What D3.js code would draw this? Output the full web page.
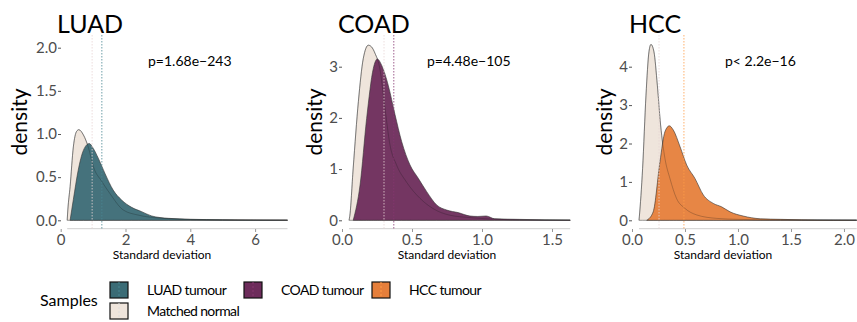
<!DOCTYPE html>
<html><head><meta charset="utf-8">
<script src="https://cdn.jsdelivr.net/npm/d3@7"></script>
<style>body{margin:0;background:#fff}svg{display:block}</style>
</head><body>
<svg id="c" width="857" height="322"></svg>
<script>
// ---------- data ----------
const panelNames = ["LUAD", "COAD", "HCC"];
const pValues = ["p=1.68e\u2212243", "p=4.48e\u2212105", "p< 2.2e\u221216"];
const tumourColors = ["#3b6c76", "#6d2c5b", "#e67f3b"];
const normalColor = "#efe5dc";
const legendLabels = ["LUAD tumour", "COAD tumour", "HCC tumour", "Matched normal"];

const luadXTicks = [0, 2, 4, 6];
const coadXTicks = [0, 0.5, 1.0, 1.5];
const hccXTicks = [0, 0.5, 1.0, 1.5, 2.0];
const luadYTicks = [0, 0.5, 1.0, 1.5, 2.0];
const coadYTicks = [0, 1, 2, 3];
const hccYTicks = [0, 1, 2, 3, 4];

// means (dotted lines): [normal, tumour]
const luadMeans = [0.97, 1.27];
const coadMeans = [0.30, 0.37];
const hccMeans = [0.255, 0.49];

// density curves
const luadNormalX = [0.2, 0.22, 0.29, 0.39, 0.49, 0.56, 0.70, 0.85, 1.01, 1.27, 1.52, 1.93, 2.40, 2.91, 3.5, 4.2, 5.0, 6.0, 7.0];
const luadNormalY = [0.0, 0.12, 0.39, 0.85, 1.03, 1.05, 0.99, 0.85, 0.62, 0.45, 0.31, 0.12, 0.06, 0.03, 0.015, 0.008, 0.005, 0.003, 0.002];
const luadTumourX = [0.29, 0.39, 0.54, 0.70, 0.88, 1.01, 1.16, 1.37, 1.62, 1.88, 2.19, 2.5, 2.81, 3.32, 4.0, 5.0, 6.0, 7.0];
const luadTumourY = [0.0, 0.24, 0.58, 0.81, 0.89, 0.83, 0.72, 0.54, 0.35, 0.235, 0.15, 0.10, 0.05, 0.023, 0.012, 0.006, 0.003, 0.002];

const coadNormalX = [0.05, 0.055, 0.08, 0.117, 0.152, 0.188, 0.21, 0.236, 0.27, 0.307, 0.343, 0.39, 0.46, 0.557, 0.65, 0.77, 0.93, 1.1, 1.3, 1.63];
const coadNormalY = [0.0, 0.07, 1.02, 2.32, 3.16, 3.42, 3.39, 3.26, 2.97, 2.19, 1.47, 1.08, 0.75, 0.43, 0.23, 0.10, 0.05, 0.02, 0.008, 0.003];
const coadTumourX = [0.08, 0.129, 0.176, 0.224, 0.252, 0.283, 0.33, 0.379, 0.426, 0.486, 0.545, 0.605, 0.676, 0.748, 0.83, 0.914, 0.97, 1.03, 1.09, 1.27, 1.45, 1.63];
const coadTumourY = [0.0, 0.69, 1.99, 2.97, 3.15, 3.03, 2.64, 2.06, 1.54, 1.08, 0.82, 0.56, 0.30, 0.20, 0.15, 0.084, 0.075, 0.084, 0.03, 0.018, 0.008, 0.004];

const hccNormalX = [0.066, 0.069, 0.10, 0.132, 0.16, 0.179, 0.207, 0.239, 0.27, 0.311, 0.358, 0.42, 0.50, 0.61, 0.80, 1.0, 1.3, 1.7, 2.12];
const hccNormalY = [0.0, 0.09, 1.35, 3.26, 4.39, 4.58, 4.39, 3.52, 2.48, 1.61, 1.09, 0.57, 0.31, 0.14, 0.05, 0.025, 0.012, 0.006, 0.003];
const hccTumourX = [0.139, 0.20, 0.264, 0.311, 0.352, 0.39, 0.453, 0.516, 0.594, 0.673, 0.767, 0.846, 0.925, 1.05, 1.21, 1.4, 1.6, 1.9, 2.12];
const hccTumourY = [0.0, 0.22, 1.53, 2.31, 2.46, 2.35, 1.92, 1.44, 1.09, 0.66, 0.44, 0.35, 0.22, 0.11, 0.04, 0.025, 0.012, 0.006, 0.004];

// ---------- layout ----------
const panels = [
  {xt: luadXTicks, yt: luadYTicks, yfmt: d3.format(".1f"), xfmt: d3.format("d"), means: luadMeans,
   nx: luadNormalX, ny: luadNormalY, tx: luadTumourX, ty: luadTumourY,
   xdom: [0, 7], xr: [60.7, 287.5], axStart: 0.2, ydom: [0, 2], yr: [220.3, 47.7],
   title: [57, 33], dens: 20, ytickX: 58, p: [148, 66], xlab: 162},
  {xt: coadXTicks, yt: coadYTicks, yfmt: d3.format("d"), xfmt: d3.format(".1f"), means: coadMeans,
   nx: coadNormalX, ny: coadNormalY, tx: coadTumourX, ty: coadTumourY,
   xdom: [0, 1.63], xr: [342, 570.2], axStart: 0.05, ydom: [0, 3], yr: [220.3, 66.7],
   title: [338, 33], dens: 315, ytickX: 339, p: [427, 66], xlab: 447},
  {xt: hccXTicks, yt: hccYTicks, yfmt: d3.format("d"), xfmt: d3.format(".1f"), means: hccMeans,
   nx: hccNormalX, ny: hccNormalY, tx: hccTumourX, ty: hccTumourY,
   xdom: [0, 2.12], xr: [632, 856.7], axStart: 0.066, ydom: [0, 4], yr: [220.3, 66.7],
   title: [629, 33], dens: 605, ytickX: 629, p: [725, 66], xlab: 723}
];

const svg = d3.select("#c");
const font = "Lato, 'Open Sans', sans-serif";

panels.forEach((p, i) => {
  const x = d3.scaleLinear().domain(p.xdom).range(p.xr);
  const y = d3.scaleLinear().domain(p.ydom).range(p.yr);
  const g = svg.append("g");
  const area = (xs, ys) => d3.area().curve(d3.curveMonotoneX)
      .x((d, k) => x(xs[k])).y0(y(0)).y1((d, k) => y(ys[k]))(xs);
  const line = (xs, ys) => d3.line().curve(d3.curveMonotoneX)
      .x((d, k) => x(xs[k])).y((d, k) => y(ys[k]))(xs);

  // x axis line
  g.append("line").attr("x1", x(p.axStart)).attr("x2", x(p.xdom[1]))
    .attr("y1", 228.7).attr("y2", 228.7).attr("stroke", "#cfcfcf").attr("stroke-width", 1);
  // x ticks
  const xa = g.append("g").attr("transform", "translate(0,229)")
    .call(d3.axisBottom(x).tickValues(p.xt).tickFormat(p.xfmt).tickSize(3).tickPadding(2));
  xa.select(".domain").remove();
  xa.selectAll("line").attr("stroke", "#999");
  xa.selectAll("text").attr("font-family", font).attr("font-size", 15).attr("fill", "#4d4d4d");

  // y ticks
  const ya = g.append("g").attr("transform", `translate(${p.ytickX},0)`)
    .call(d3.axisLeft(y).tickValues(p.yt).tickFormat(p.yfmt).tickSize(3).tickPadding(1));
  ya.select(".domain").remove();
  ya.selectAll("line").attr("stroke", "#555").attr("transform", "translate(3,0)");
  ya.selectAll("text").attr("font-family", font).attr("font-size", 15).attr("fill", "#4d4d4d")
    .attr("x", -1);

  // densities
  g.append("path").attr("d", area(p.nx, p.ny)).attr("fill", normalColor)
    .attr("stroke", "#555").attr("stroke-width", 0.6);
  g.append("path").attr("d", area(p.tx, p.ty)).attr("fill", tumourColors[i]).attr("fill-opacity", 0.95)
    .attr("stroke", "#333").attr("stroke-width", 0.6);
  g.append("path").attr("d", line(p.nx, p.ny)).attr("fill", "none")
    .attr("stroke", "#222").attr("stroke-opacity", 0.35).attr("stroke-width", 0.7);

  // mean lines
  g.append("line").attr("x1", x(p.means[0])).attr("x2", x(p.means[0]))
    .attr("y1", 35).attr("y2", 229).attr("stroke", "#e9d6d6").attr("stroke-width", 0.8)
    .attr("stroke-dasharray", "1.5,1.5");
  g.append("line").attr("x1", x(p.means[1])).attr("x2", x(p.means[1]))
    .attr("y1", 35).attr("y2", 229).attr("stroke", d3.color(tumourColors[i]).brighter(0.6))
    .attr("stroke-width", 0.8).attr("stroke-dasharray", "1.5,1.5");

  // texts
  g.append("text").attr("x", p.title[0]).attr("y", p.title[1]).text(panelNames[i])
    .attr("font-family", font).attr("font-size", 25).attr("fill", "#000");
  g.append("text").attr("transform", `translate(${p.dens + 7},122) rotate(-90)`)
    .attr("text-anchor", "middle").text("density")
    .attr("font-family", font).attr("font-size", 21).attr("fill", "#000");
  g.append("text").attr("x", p.p[0]).attr("y", p.p[1]).text(pValues[i])
    .attr("font-family", font).attr("font-size", 14).attr("fill", "#000");
  g.append("text").attr("x", p.xlab).attr("y", 259).attr("text-anchor", "middle")
    .text("Standard deviation").attr("font-family", font).attr("font-size", 12).attr("fill", "#000");
});

// ---------- legend ----------
const lg = svg.append("g");
lg.append("text").attr("x", 40).attr("y", 306).text("Samples")
  .attr("font-family", font).attr("font-size", 16).attr("fill", "#000");
const legendPos = [[110, 282], [244, 282], [372, 282], [110, 303]];
const legendFill = [tumourColors[0], tumourColors[1], tumourColors[2], normalColor];
legendLabels.forEach((lab, k) => {
  const [lx, ly] = legendPos[k];
  lg.append("rect").attr("x", lx).attr("y", ly).attr("width", 18).attr("height", 16)
    .attr("fill", legendFill[k]).attr("stroke", "#111").attr("stroke-width", 1.2);
  lg.append("line").attr("x1", lx + 9).attr("x2", lx + 9).attr("y1", ly).attr("y2", ly + 16)
    .attr("stroke", k < 3 ? d3.color(legendFill[k]).brighter(0.6) : "#ddd").attr("stroke-width", 1)
    .attr("stroke-dasharray", "2,2");
  lg.append("text").attr("x", lx + 37).attr("y", ly + 13).text(lab)
    .attr("font-family", font).attr("font-size", 14).attr("letter-spacing", -0.6).attr("fill", "#000");
});
</script>
</body></html>
